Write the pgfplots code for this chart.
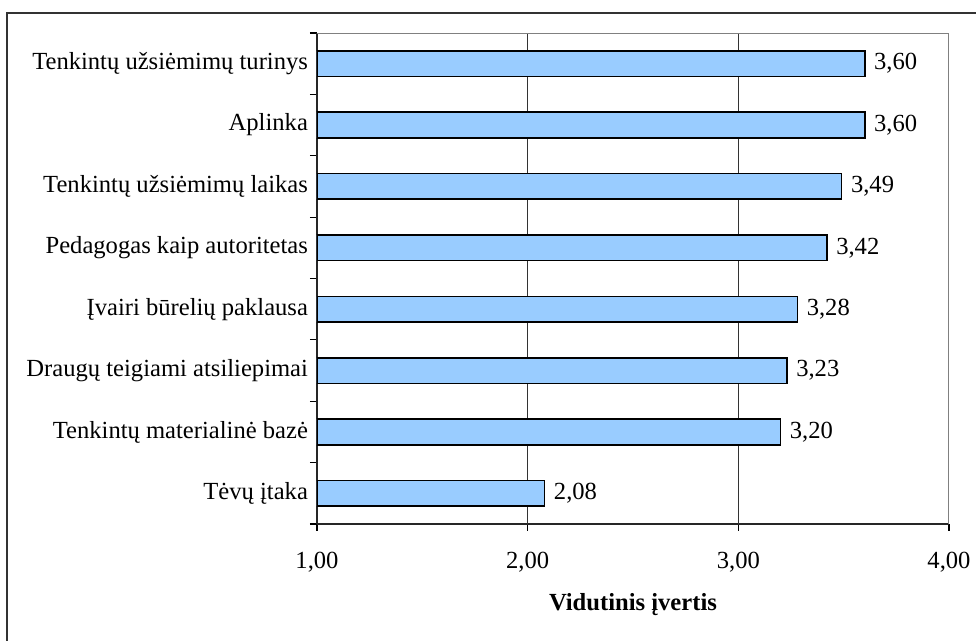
\documentclass[border=0pt]{standalone}
\usepackage{fontspec}
\setmainfont{Liberation Serif}
\usepackage{pgfplots}
\pgfplotsset{compat=1.18}
\definecolor{barblue}{RGB}{153,204,255}

\begin{document}
\begin{tikzpicture}[x=1pt,y=1pt]
  \path[use as bounding box] (0,0) rectangle (488,-320.5);
  % chart frame (cut off at right and bottom)
  \draw[line width=0.9pt, black!80] (3.5,-325) -- (3.5,-6.5) -- (495,-6.5);

  \begin{axis}[
    at={(158.5pt,-262pt)}, anchor=south west,
    scale only axis,
    width=316pt, height=245.5pt,
    xbar, bar width=12.8pt,
    xmin=1, xmax=4,
    ymin=-0.5, ymax=7.5,
    axis x line*=bottom, axis y line*=left,
    axis line style={-, line width=0.8pt, black!85},
    tick align=outside,
    major tick length=3.5pt,
    tick style={black, line width=0.6pt},
    xtick={1,2,3,4},
    xticklabels={{1,00},{2,00},{3,00},{4,00}},
    xticklabel style={yshift=-7pt},
    extra x ticks={2,3},
    extra x tick labels={},
    extra x tick style={grid=major, major tick length=0pt},
    grid style={black!80, line width=0.5pt},
    ytick={-0.5,0.5,...,7.5},
    yticklabels={},
    extra y ticks={0,1,2,3,4,5,6,7},
    extra y tick labels={Tėvų įtaka, Tenkintų materialinė bazė, Draugų teigiami atsiliepimai, Įvairi būrelių paklausa, Pedagogas kaip autoritetas, Tenkintų užsiėmimų laikas, Aplinka, Tenkintų užsiėmimų turinys},
    extra y tick style={major tick length=0pt, yticklabel style={xshift=-1pt}},
    every tick label/.append style={font=\fontsize{12.3}{14}\selectfont},
    xlabel={\textbf{Vidutinis įvertis}},
    xlabel style={at={(axis description cs:0.5,0)}, anchor=center, yshift=-40.5pt, font=\fontsize{12.3}{14}\selectfont},
    nodes near coords,
    point meta=explicit symbolic,
    every node near coord/.append style={font=\fontsize{12.3}{14}\selectfont, anchor=west, xshift=1pt},
  ]
    \addplot[fill=barblue, draw=black, line width=0.8pt] coordinates {
      (2.08,0) [2,08]
      (3.20,1) [3,20]
      (3.23,2) [3,23]
      (3.28,3) [3,28]
      (3.42,4) [3,42]
      (3.49,5) [3,49]
      (3.60,6) [3,60]
      (3.60,7) [3,60]
    };
    \draw[black!50, line width=0.6pt] (rel axis cs:0,1) -- (rel axis cs:1,1) -- (rel axis cs:1,0);
  \end{axis}
\end{tikzpicture}
\end{document}
